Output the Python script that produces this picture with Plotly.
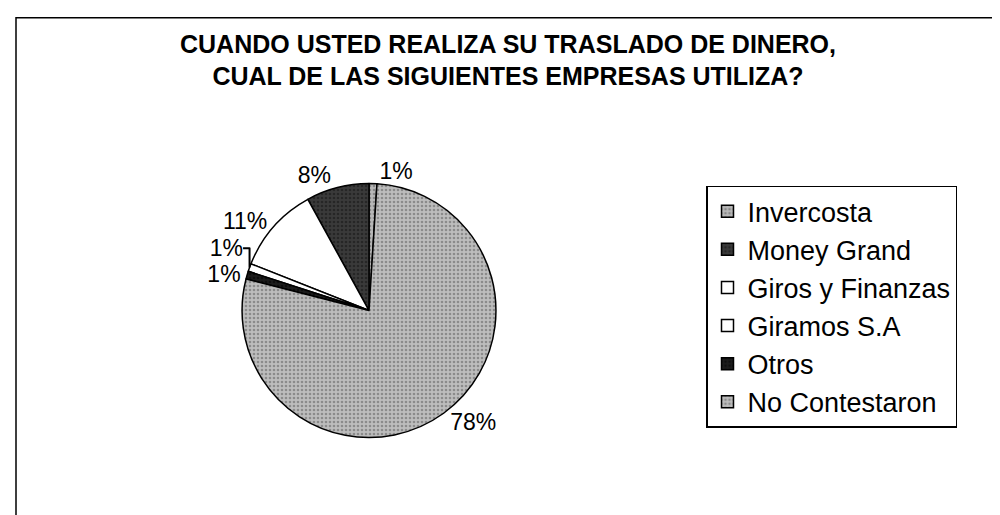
import plotly.graph_objects as go

labels = ["Invercosta", "Money Grand", "Giros y Finanzas", "Giramos S.A", "Otros", "No Contestaron"]
values = [1, 8, 11, 1, 1, 78]
colors = ["#b8b8b8", "#3a3a3a", "#ffffff", "#ffffff", "#1c1c1c", "#bdbdbd"]
pattern_fg = ["#555555", "#111111", "#ffffff", "#ffffff", "#000000", "#5a5a5a"]

TITLE = "<b>CUANDO USTED REALIZA SU TRASLADO DE DINERO,<br>CUAL DE LAS SIGUIENTES EMPRESAS UTILIZA?</b>"
FONT = "Liberation Sans, Arial, sans-serif"

fig = go.Figure(go.Pie(
    labels=labels, values=values, sort=False, direction="counterclockwise", rotation=0,
    texttemplate="%{value}%", textposition="outside",
    textfont=dict(size=23, color="#000000", family=FONT),
    marker=dict(
        colors=colors,
        line=dict(color="#000000", width=1.5),
        pattern=dict(shape=".", fgcolor=pattern_fg, size=4, solidity=0.35, fillmode="overlay"),
    ),
    domain=dict(x=[0.234, 0.488], y=[0.166, 0.659]),
    hoverinfo="label+percent",
))

fig.update_layout(
    width=1000, height=515,
    margin=dict(l=0, r=0, t=0, b=0),
    paper_bgcolor="#ffffff",
    font=dict(family=FONT, color="#000000"),
    title=dict(text=TITLE, x=0.5, xanchor="center", y=0.913, yanchor="top",
               font=dict(size=25, family=FONT, color="#000000")),
    legend=dict(x=0.698, y=0.655, xanchor="left", yanchor="top",
                bgcolor="#ffffff", bordercolor="#000000", borderwidth=1.5,
                font=dict(size=27, family=FONT, color="#000000")),
    shapes=[dict(type="rect", xref="paper", yref="paper", x0=0.008, x1=1.01, y0=-0.01, y1=0.981,
                 line=dict(color="#000000", width=1.5))],
)

fig.write_html("out.html")
